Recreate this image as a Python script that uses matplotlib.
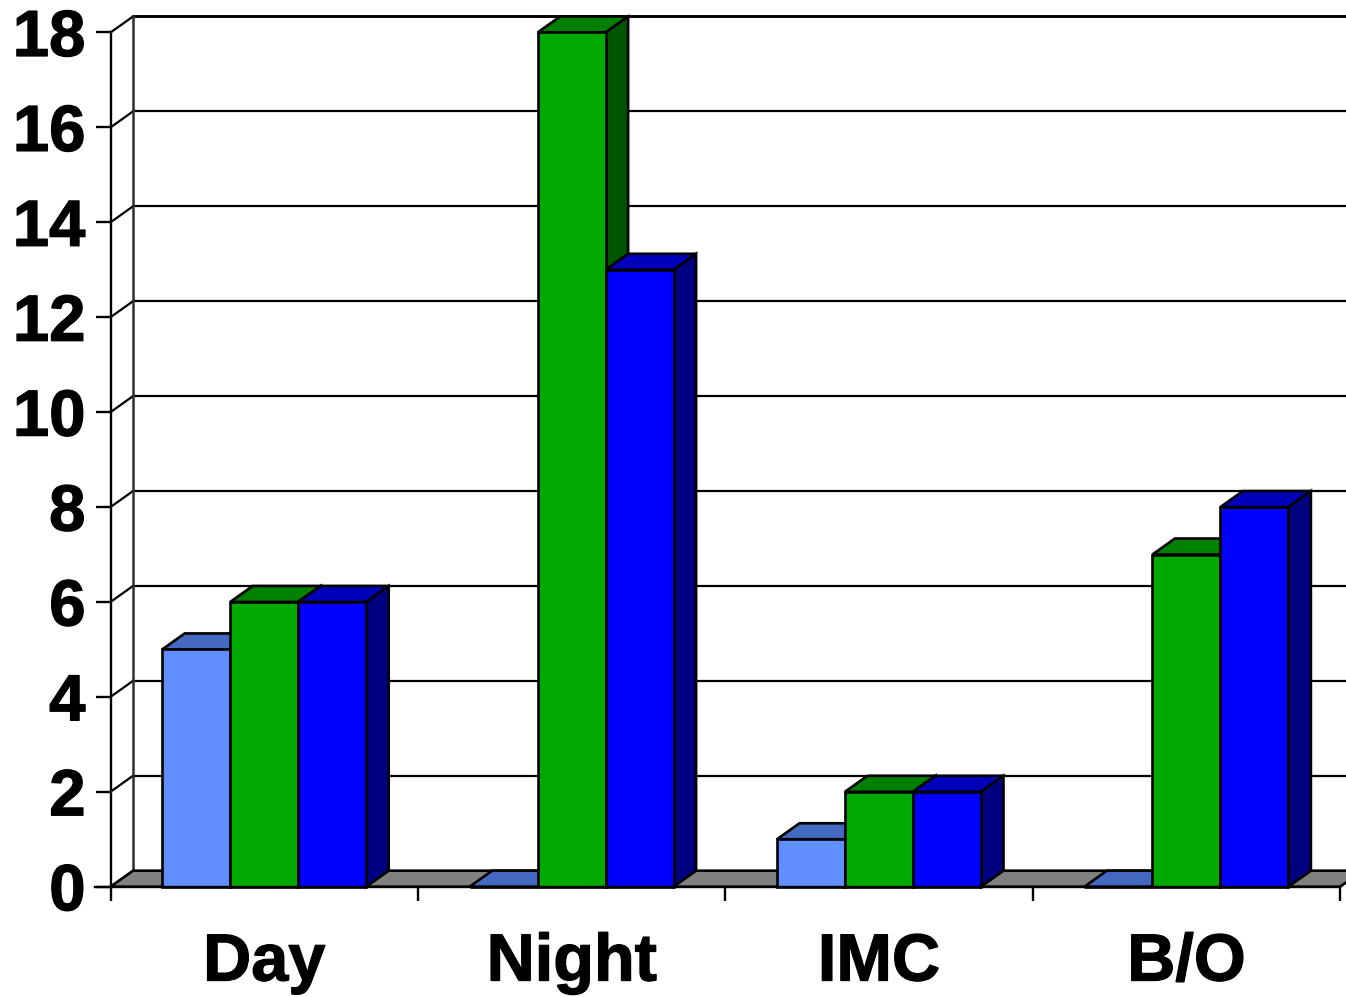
import matplotlib
matplotlib.use('Agg')
import matplotlib.pyplot as plt
import matplotlib.patheffects as pe
from matplotlib.patches import Polygon
import numpy as np

categories = ['Day', 'Night', 'IMC', 'B/O']
series_a = [5, 0, 1, 0]
series_b = [6, 18, 2, 7]
series_c = [6, 13, 2, 8]
y_ticks = [0, 2, 4, 6, 8, 10, 12, 14, 16, 18]

plt.rcParams['font.family'] = ['Liberation Sans', 'DejaVu Sans']
plt.rcParams['font.weight'] = 'bold'

W, H = 1346, 997
fig = plt.figure(figsize=(W / 100, H / 100), dpi=100)
left, right, top, bottom = 110.5, 1346, 32.5, 886.7
ax = fig.add_axes([left / W, 1 - bottom / H, (right - left) / W, (bottom - top) / H])

group_px = 307.4
ax.set_xlim(0, (right - left) / group_px)
ax.set_ylim(0, 18)

# depth of the fake 3d look, in data units
dx = 22.5 / group_px
dy = 16 / ((bottom - top) / 18)
bar_w = 68 / group_px
lw = 1.9

# back wall, side wall
xmax = ax.get_xlim()[1]
for t in y_ticks[1:]:
    line_w = 2.1 if t == 18 else 1.6
    ax.plot([dx, xmax + dx], [t + dy, t + dy], color='black', lw=line_w, zorder=0.5, clip_on=False)
    ax.plot([0, dx], [t, t + dy], color='black', lw=1.6, zorder=0.5, clip_on=False)
ax.plot([dx, dx], [dy, 18 + dy], color='#303030', lw=1.8, zorder=0.5, clip_on=False)

# floor
ax.add_patch(Polygon([(0, 0), (dx, dy), (4 + dx, dy), (4, 0)], closed=True, facecolor='#808080',
                     edgecolor='black', lw=lw, zorder=0.6, clip_on=False))

styles = [
    (series_a, '#6090FF', '#4469C0', '#304A90'),
    (series_b, '#00AA00', '#008000', '#005500'),
    (series_c, '#0000FF', '#0000BB', '#000080'),
]

offset = (1 - 3 * bar_w) / 2
for g in range(len(categories)):
    for s, (vals, front, lid, side) in enumerate(styles):
        x0 = g + offset + s * bar_w
        v = vals[g]
        ax.add_patch(Polygon([(x0, v), (x0 + dx, v + dy), (x0 + bar_w + dx, v + dy), (x0 + bar_w, v)],
                             closed=True, facecolor=lid, edgecolor='black', lw=lw, clip_on=False))
        ax.add_patch(Polygon([(x0 + bar_w, 0), (x0 + bar_w + dx, dy), (x0 + bar_w + dx, v + dy), (x0 + bar_w, v)],
                             closed=True, facecolor=side, edgecolor='black', lw=lw, clip_on=False))
        ax.bar(x0, v, width=bar_w, align='edge', color=front, edgecolor='black', lw=lw, clip_on=False)

for sp in ['top', 'right']:
    ax.spines[sp].set_visible(False)
for sp in ['left', 'bottom']:
    ax.spines[sp].set_linewidth(1.7)
ax.spines['bottom'].set_bounds(-0.05, 4)
ax.spines['bottom'].set_zorder(5)

ax.set_yticks(y_ticks)
ax.set_yticklabels([str(t) for t in y_ticks], fontsize=47, fontweight='bold')
ax.tick_params(axis='y', length=11, width=1.7, pad=7)

ax.set_xticks(np.arange(5))
ax.set_xticklabels([])
ax.tick_params(axis='x', which='major', length=10, width=1.7)
ax.set_xticks(np.arange(4) + 0.5, minor=True)
ax.set_xticklabels(categories, minor=True, fontsize=48, fontweight='bold')
ax.tick_params(axis='x', which='minor', length=0, pad=33)

# the original lettering is heavier than plain bold
heavy = [pe.withStroke(linewidth=0.9, foreground='black')]
for lab in ax.get_yticklabels() + ax.get_xticklabels(minor=True):
    lab.set_path_effects(heavy)

fig.savefig('out.png', dpi=100, facecolor='white')
